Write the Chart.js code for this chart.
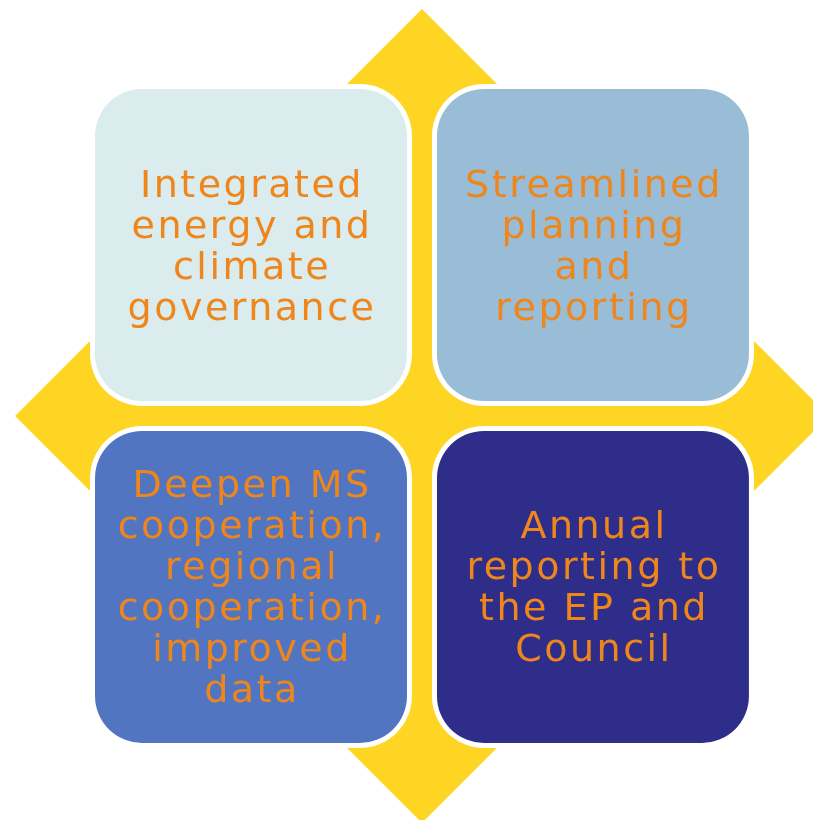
<!DOCTYPE html>
<html>
<head>
<meta charset="utf-8">
<script src="https://cdn.jsdelivr.net/npm/chart.js@4/dist/chart.umd.min.js"></script>
<style>
  html, body { margin: 0; padding: 0; background: #ffffff; }
  #wrap { width: 813px; height: 820px; }
</style>
</head>
<body>
<div id="wrap"><canvas id="c" width="813" height="820"></canvas></div>
<script>
// ---- data ----
const categories = [
  "Integrated energy and climate governance",
  "Streamlined planning and reporting",
  "Deepen MS cooperation, regional cooperation, improved data",
  "Annual reporting to the EP and Council"
];
const labelLines = [
  ["Integrated", "energy and", "climate", "governance"],
  ["Streamlined", "planning", "and", "reporting"],
  ["Deepen MS", "cooperation,", "regional", "cooperation,", "improved", "data"],
  ["Annual", "reporting to", "the EP and", "Council"]
];
const quadrantX = [-1, 1, -1, 1];
const quadrantY = [1, 1, -1, -1];
const boxColors = ["#DAECEE", "#99BDD6", "#5175C1", "#2E2E8A"];
const diamondX = [0, 2.38, 0, -2.38, 0];
const diamondY = [2.38, 0, -2.38, 0, 2.38];

// ---- style ----
const YELLOW = "#FED522";
const TEXT_COLOR = "#EF861C";
const BOX_HALF = 0.9415;     // in axis units
const BORDER_PX = 5;
const RADIUS_PX = 52;
const FONT = '38px "DejaVu Sans ExtraLight", "DejaVu Sans"';
const LINE_H = 41;

const boxPlugin = {
  id: 'boxes',
  afterDatasetsDraw(chart) {
    const ctx = chart.ctx;
    const meta = chart.getDatasetMeta(1);
    const xs = chart.scales.x, ys = chart.scales.y;
    const halfPx = Math.abs(xs.getPixelForValue(BOX_HALF) - xs.getPixelForValue(0));
    const halfPy = Math.abs(ys.getPixelForValue(BOX_HALF) - ys.getPixelForValue(0));
    meta.data.forEach((pt, i) => {
      const cx = pt.x, cy = pt.y;
      ctx.save();
      ctx.beginPath();
      ctx.roundRect(cx - halfPx, cy - halfPy, 2 * halfPx, 2 * halfPy, RADIUS_PX);
      ctx.fillStyle = "#ffffff";
      ctx.fill();
      ctx.beginPath();
      ctx.roundRect(cx - halfPx + BORDER_PX, cy - halfPy + BORDER_PX,
        2 * halfPx - 2 * BORDER_PX, 2 * halfPy - 2 * BORDER_PX, RADIUS_PX - BORDER_PX);
      ctx.fillStyle = boxColors[i];
      ctx.fill();
      const lines = labelLines[i];
      ctx.font = FONT;
      try { ctx.letterSpacing = "2.5px"; } catch (e) {}
      ctx.fillStyle = TEXT_COLOR;
      ctx.textAlign = "center";
      ctx.textBaseline = "alphabetic";
      const n = lines.length;
      lines.forEach((ln, k) => {
        const by = cy + (k - (n - 1) / 2) * LINE_H + 13;
        ctx.fillText(ln, cx + 1, by);
      });
      ctx.restore();
    });
  }
};

new Chart(document.getElementById('c'), {
  type: 'scatter',
  data: {
    datasets: [
      {
        label: 'frame',
        type: 'line',
        data: diamondX.map((x, i) => ({ x: x, y: diamondY[i] })),
        showLine: true,
        fill: 'shape',
        backgroundColor: YELLOW,
        borderColor: YELLOW,
        borderWidth: 0,
        pointRadius: 0,
        tension: 0
      },
      {
        label: 'quadrants',
        data: quadrantX.map((x, i) => ({ x: x, y: quadrantY[i], name: categories[i] })),
        pointRadius: 0,
        backgroundColor: boxColors
      }
    ]
  },
  options: {
    responsive: false,
    devicePixelRatio: 1,
    animation: false,
    layout: { padding: 0 },
    plugins: { legend: { display: false }, tooltip: { enabled: false }, title: { display: false } },
    scales: {
      x: { type: 'linear', display: false, min: -2.468, max: 2.287 },
      y: { type: 'linear', display: false, min: -2.363, max: 2.433 }
    }
  },
  plugins: [boxPlugin]
});
</script>
</body>
</html>
